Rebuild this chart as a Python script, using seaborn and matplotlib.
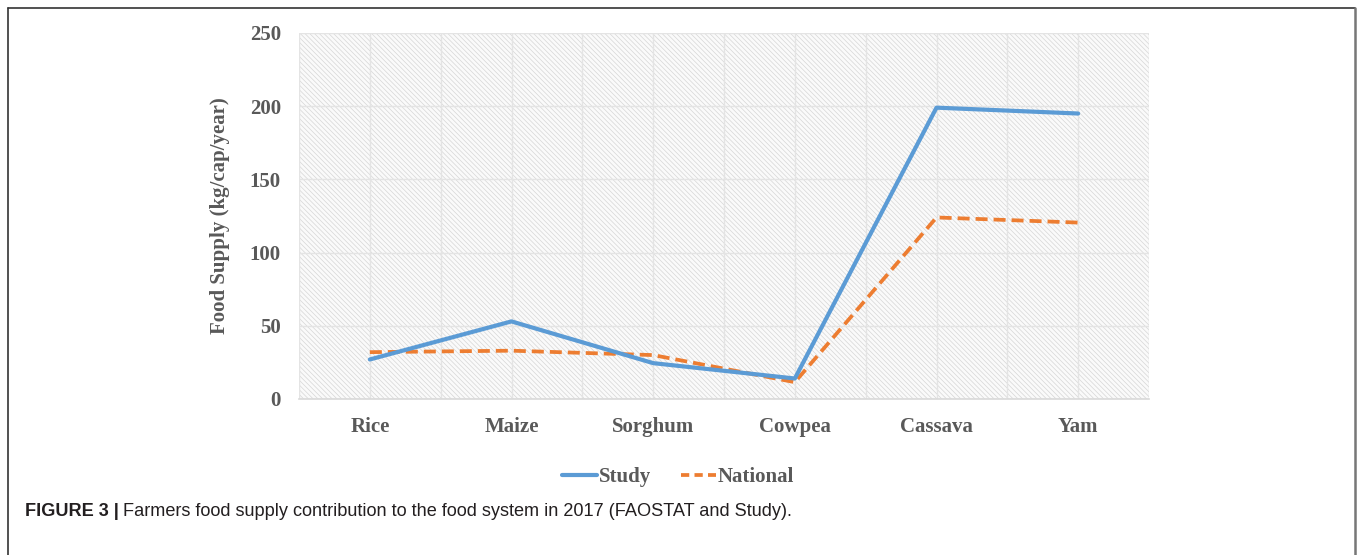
import numpy as np
import pandas as pd
import matplotlib
matplotlib.use('Agg')
import matplotlib.pyplot as plt
import seaborn as sns
from matplotlib.patches import Rectangle
from matplotlib.lines import Line2D

sns.set_style('white')
plt.rcParams['hatch.linewidth'] = 0.5

# ── data ─────────────────────────────────────────────
crops = ['Rice', 'Maize', 'Sorghum', 'Cowpea', 'Cassava', 'Yam']
study = [27, 53, 24.5, 14, 199, 195]
national = [32, 33, 30, 11.5, 124, 120.5]
yticks = [0, 50, 100, 150, 200, 250]

df = pd.DataFrame({'crop': crops * 2,
                   'supply': study + national,
                   'series': ['Study'] * 6 + ['National'] * 6})

BLUE = '#5b9bd5'
ORANGE = '#ed7d31'
GREY = '#595959'
SERIF = 'Liberation Serif'

W, H = 1357, 555
fig = plt.figure(figsize=(W / 100, H / 100), dpi=100)
fig.patch.set_facecolor('white')
ax = fig.add_axes([299 / W, (H - 399) / H, 850 / W, 366 / H])

# hatched plot area background
ax.add_patch(Rectangle((0, 0), 1, 1, transform=ax.transAxes, facecolor='#fafafa',
                       edgecolor='#d6d6d6', hatch='\\' * 7, lw=0, zorder=0))

sns.lineplot(data=df[df.series == 'Study'], x='crop', y='supply', ax=ax,
             color=BLUE, lw=3.0, zorder=4, sort=False)
sns.lineplot(data=df[df.series == 'National'], x='crop', y='supply', ax=ax,
             color=ORANGE, lw=2.7, zorder=3, sort=False, dashes=False,
             linestyle=(0, (3.2, 1.6)))

ax.set_xlim(-0.5, 5.5)
ax.set_ylim(0, 250)
ax.set_yticks(yticks)
ax.set_xticks(range(len(crops)))
ax.set_xticklabels(crops)
ax.set_xticks(np.arange(-0.5, 6, 1), minor=True)
ax.grid(True, which='both', color='#e4e4e4', lw=1.0, zorder=1)
ax.set_axisbelow(True)
ax.tick_params(axis='both', which='both', length=0)
ax.tick_params(axis='x', pad=13)
ax.tick_params(axis='y', pad=13)
for lab in ax.get_xticklabels() + ax.get_yticklabels():
    lab.set_fontfamily(SERIF)
    lab.set_fontweight('bold')
    lab.set_fontsize(15)
    lab.set_color(GREY)

for s in ['left', 'right', 'top']:
    ax.spines[s].set_visible(False)
ax.spines['bottom'].set_color('#d9d9d9')
ax.spines['bottom'].set_linewidth(1.2)

ax.set_xlabel('')
ax.set_ylabel('Food Supply (kg/cap/year)', fontfamily=SERIF, fontweight='bold',
              fontsize=15, color=GREY, labelpad=14)

# legend below
handles = [Line2D([], [], color=BLUE, lw=3.0),
           Line2D([], [], color=ORANGE, lw=2.7, linestyle=(0, (2.2, 1.4)))]
leg = fig.legend(handles, ['Study', 'National'], loc='center', bbox_to_anchor=(678 / W, 1 - 477 / H),
                 ncol=2, frameon=False, handlelength=1.7, handletextpad=0.1, columnspacing=1.4,
                 prop={'family': SERIF, 'weight': 'bold', 'size': 15})
for t in leg.get_texts():
    t.set_color(GREY)

# figure frame
fig.add_artist(Line2D([8 / W, 8 / W], [0, 1 - 8 / H], transform=fig.transFigure, color='#333333', lw=1.2))
fig.add_artist(Line2D([8 / W, 1355 / W], [1 - 8 / H, 1 - 8 / H], transform=fig.transFigure, color='#333333', lw=1.2))
fig.add_artist(Line2D([1355 / W, 1355 / W], [0, 1 - 8 / H], transform=fig.transFigure, color='#777777', lw=1.8))

# caption
cap_font = ['Liberation Sans', 'DejaVu Sans']
t1 = fig.text(25 / W, 1 - 512 / H, 'FIGURE 3 |', fontsize=13.1, fontweight='bold',
              family=cap_font, color='#231f20', va='center')
fig.canvas.draw()
bb = t1.get_window_extent()
fig.text((bb.x1 + 4) / W, 1 - 512 / H,
         'Farmers food supply contribution to the food system in 2017 (FAOSTAT and Study).',
         fontsize=13.1, family=cap_font, color='#231f20', va='center')

fig.savefig('out.png', dpi=100)
